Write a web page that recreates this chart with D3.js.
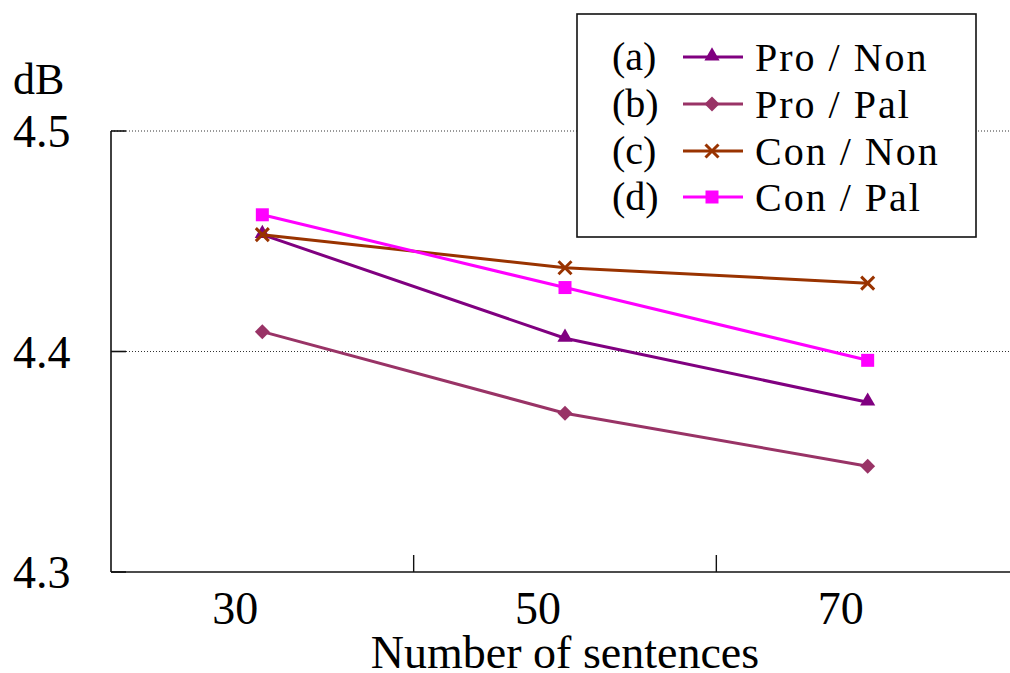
<!DOCTYPE html>
<html>
<head>
<meta charset="utf-8">
<script src="https://cdn.jsdelivr.net/npm/d3@7"></script>
<style>
  html, body { margin: 0; padding: 0; background: #fff; }
</style>
</head>
<body>
<svg id="chart" width="1010" height="673"></svg>
<script>
// Sentence counts on the x axis
const categories = ["30", "50", "70"];

// dB per series, one value per sentence count
const proNon = [4.453, 4.406, 4.377];
const proPal = [4.409, 4.372, 4.348];
const conNon = [4.453, 4.438, 4.431];
const conPal = [4.462, 4.429, 4.396];

const seriesKeys   = ["(a)", "(b)", "(c)", "(d)"];
const seriesNames  = ["Pro / Non", "Pro / Pal", "Con / Non", "Con / Pal"];
const seriesValues = [proNon, proPal, conNon, conPal];
const seriesColors = ["#800080", "#993366", "#993300", "#ff00ff"];
const seriesShapes = ["triangle", "diamond", "cross", "square"];

const yTicks = [4.3, 4.4, 4.5];
const yGrid = [4.4, 4.5];
const yLabel = "dB";
const xLabel = "Number of sentences";

const FONT = "'Liberation Serif', 'Times New Roman', serif";

const svg = d3.select("#chart")
  .attr("font-family", FONT);

const x = d3.scaleBand().domain(categories).range([111, 1019]).padding(0);
const y = d3.scaleLinear().domain([4.3, 4.5]).range([572, 131]);

// dotted gridlines
svg.append("g").selectAll("line").data(yGrid).join("line")
  .attr("x1", 111).attr("x2", 1010)
  .attr("y1", d => y(d)).attr("y2", d => y(d))
  .attr("stroke", "#333").attr("stroke-width", 1)
  .attr("stroke-dasharray", "1,2");

// y axis: line, short inner ticks, labels
const yAxis = svg.append("g");
yAxis.append("line")
  .attr("x1", 111).attr("x2", 111)
  .attr("y1", y(4.5)).attr("y2", y(4.3))
  .attr("stroke", "#111").attr("stroke-width", 1.6);
yAxis.selectAll("line.tick").data(yTicks).join("line")
  .attr("class", "tick")
  .attr("x1", 111).attr("x2", 126)
  .attr("y1", d => y(d)).attr("y2", d => y(d))
  .attr("stroke", "#111").attr("stroke-width", 1.6);
yAxis.selectAll("text").data(yTicks).join("text")
  .attr("font-family", FONT)
  .attr("x", 13).attr("y", d => y(d) + 16)
  .attr("font-size", 46)
  .text(d => d3.format(".1f")(d));

svg.append("text")
  .attr("font-family", FONT)
  .attr("x", 13).attr("y", 94)
  .attr("font-size", 44)
  .text(yLabel);

// x axis: line, dividers between categories, labels
const xAxis = svg.append("g");
xAxis.append("line")
  .attr("x1", 111).attr("x2", 1010)
  .attr("y1", y(4.3)).attr("y2", y(4.3))
  .attr("stroke", "#111").attr("stroke-width", 1.6);
xAxis.selectAll("line.tick").data(categories.slice(1)).join("line")
  .attr("class", "tick")
  .attr("x1", d => x(d)).attr("x2", d => x(d))
  .attr("y1", y(4.3) - 17).attr("y2", y(4.3))
  .attr("stroke", "#111").attr("stroke-width", 1.4);
xAxis.selectAll("text").data(categories).join("text")
  .attr("font-family", FONT)
  .attr("x", d => x(d) + x.bandwidth() / 2 - 27)
  .attr("y", 624)
  .attr("text-anchor", "middle")
  .attr("font-size", 46)
  .text(d => d);

svg.append("text")
  .attr("font-family", FONT)
  .attr("x", 565).attr("y", 668)
  .attr("text-anchor", "middle")
  .attr("font-size", 46)
  .text(xLabel);

// marker drawing
function drawMarker(g, shape, color) {
  if (shape === "triangle") {
    g.append("path").attr("d", d3.symbol(d3.symbolTriangle, 100)())
      .attr("transform", "translate(0,-1)")
      .attr("fill", color);
  } else if (shape === "diamond") {
    g.append("path").attr("d", d3.symbol(d3.symbolSquare, 112)())
      .attr("transform", "rotate(45)")
      .attr("fill", color);
  } else if (shape === "square") {
    g.append("path").attr("d", d3.symbol(d3.symbolSquare, 169)())
      .attr("fill", color);
  } else if (shape === "cross") {
    g.append("path").attr("d", "M-6.5,-6.5L6.5,6.5M-6.5,6.5L6.5,-6.5")
      .attr("stroke", color).attr("stroke-width", 3).attr("fill", "none");
  }
}

const line = d3.line()
  .x((d, i) => x(categories[i]) + x.bandwidth() / 2)
  .y(d => y(d));

seriesValues.forEach((vals, s) => {
  const g = svg.append("g");
  g.append("path")
    .attr("d", line(vals))
    .attr("fill", "none")
    .attr("stroke", seriesColors[s])
    .attr("stroke-width", 3);
  vals.forEach((v, i) => {
    const m = g.append("g")
      .attr("transform", `translate(${x(categories[i]) + x.bandwidth() / 2},${y(v)})`);
    drawMarker(m, seriesShapes[s], seriesColors[s]);
  });
});

// legend
const legend = svg.append("g");
legend.append("rect")
  .attr("x", 577).attr("y", 14)
  .attr("width", 399).attr("height", 223)
  .attr("fill", "#fff")
  .attr("stroke", "#111").attr("stroke-width", 1.6);

const rowY = [57, 104, 151, 197];
seriesKeys.forEach((k, s) => {
  const ry = rowY[s];
  legend.append("text")
    .attr("font-family", FONT)
    .attr("x", 612).attr("y", ry + 13)
    .attr("font-size", 40)
    .text(k);
  legend.append("line")
    .attr("x1", 683).attr("x2", 743)
    .attr("y1", ry).attr("y2", ry)
    .attr("stroke", seriesColors[s]).attr("stroke-width", 3);
  const m = legend.append("g").attr("transform", `translate(712,${ry})`);
  drawMarker(m, seriesShapes[s], seriesColors[s]);
  legend.append("text")
    .attr("font-family", FONT)
    .attr("x", 755).attr("y", ry + 14)
    .attr("font-size", 40)
    .attr("letter-spacing", 2)
    .text(seriesNames[s]);
});
</script>
</body>
</html>
